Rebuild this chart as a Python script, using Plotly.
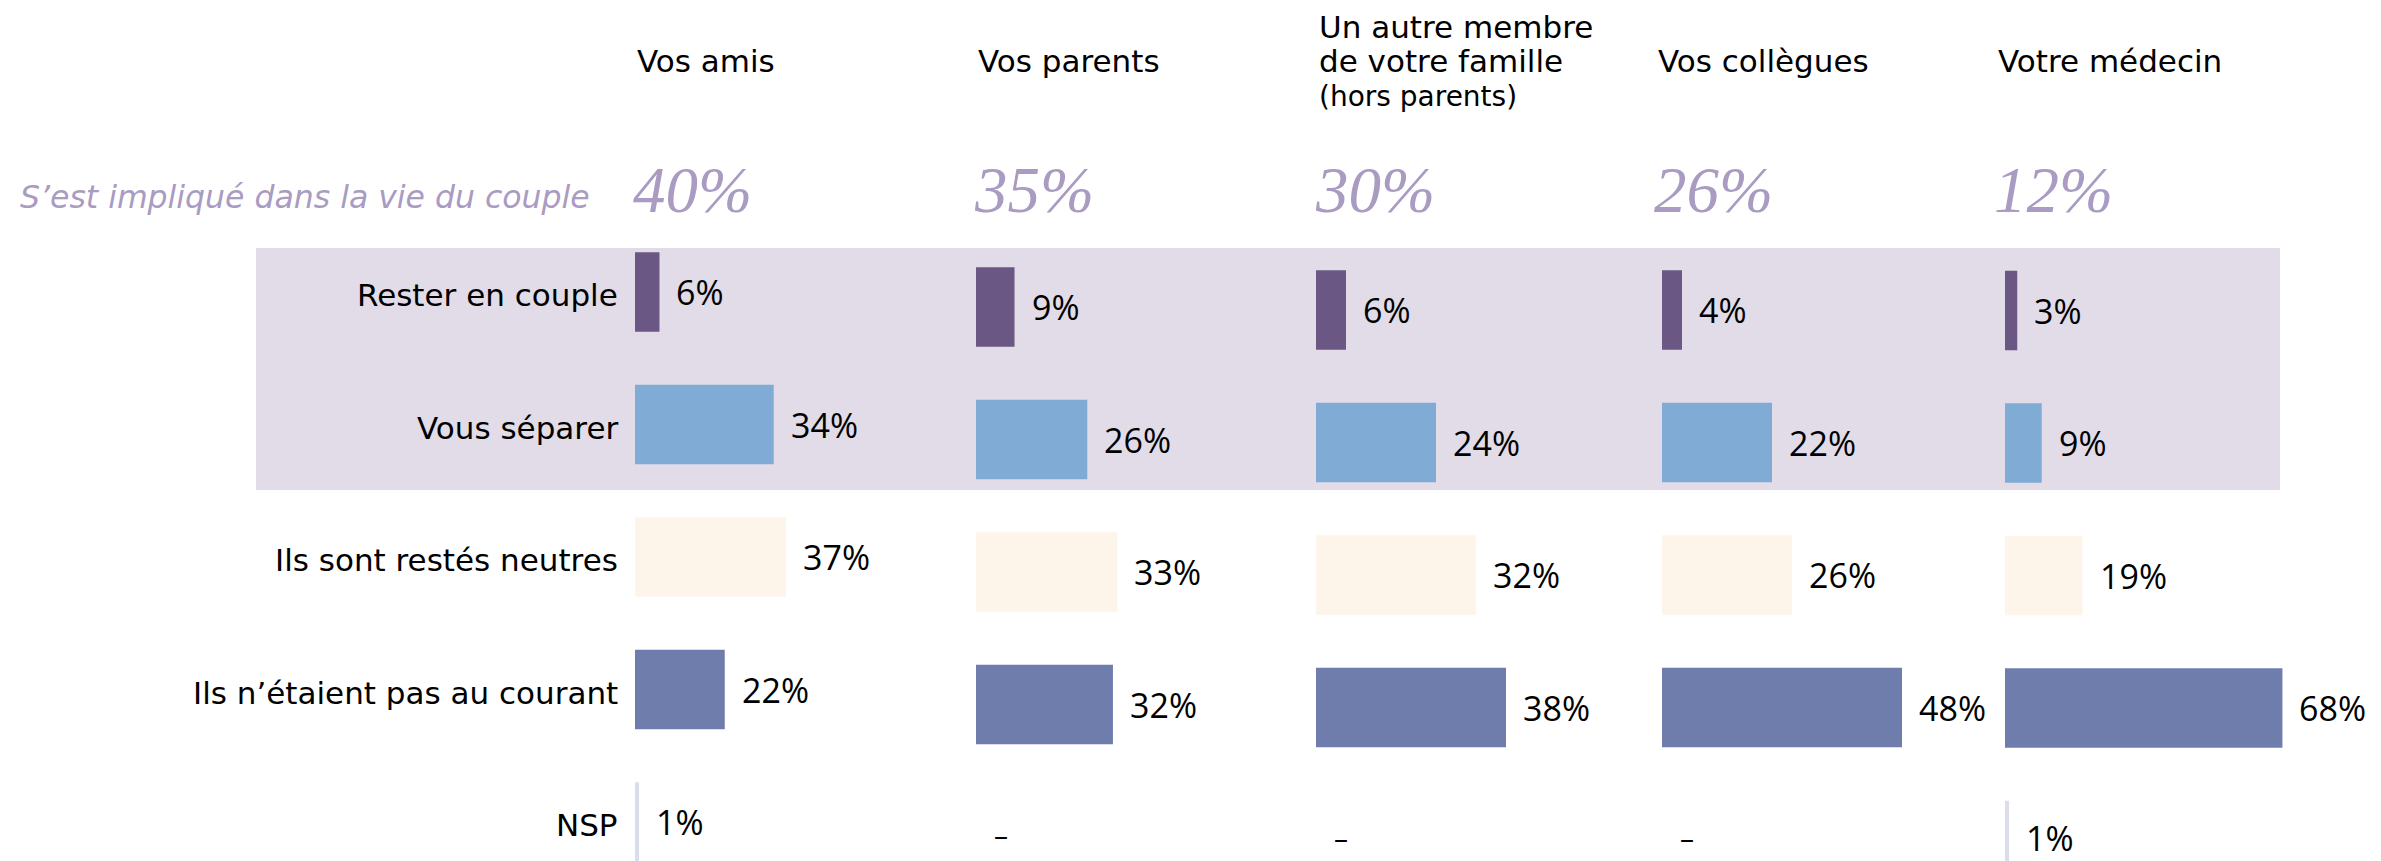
import plotly.graph_objects as go

W, H = 2381, 861

columns = ["Vos amis", "Vos parents", "Un autre membre de votre famille (hors parents)",
           "Vos collègues", "Votre médecin"]
header_lines = [["Vos amis"], ["Vos parents"], ["Un autre membre", "de votre famille", "(hors parents)"],
                ["Vos collègues"], ["Votre médecin"]]
implied = [40, 35, 30, 26, 12]
categories = ["Rester en couple", "Vous séparer", "Ils sont restés neutres",
              "Ils n’étaient pas au courant", "NSP"]
vals_amis = [6, 34, 37, 22, 1]
vals_parents = [9, 26, 33, 32, None]
vals_famille = [6, 24, 32, 38, None]
vals_collegues = [4, 22, 26, 48, None]
vals_medecin = [3, 9, 19, 68, 1]
series = [vals_amis, vals_parents, vals_famille, vals_collegues, vals_medecin]

cat_colors = ["#6A5783", "#80ABD5", "#FDF4EA", "#6F7DAD", "#DCDDEB"]
purple_txt = "#A99BC2"
band_color = "#E1DCE8"

FONT = "DejaVu Sans"
VFONT = "Open Sans"

# layout geometry (pixels)
col_left = [635, 976, 1316, 1662, 2005]
px_per_pct = [4.08, 4.28, 5.0, 5.0, 4.08]
first_row_center = [292, 307, 310, 310, 310.5]
row_step = 132.5
plot_top = 230
dom_w = 300
header_x = [635, 976, 1317, 1656, 1996]

fig = go.Figure()
layout = dict(
    width=W, height=H, margin=dict(l=0, r=0, t=0, b=0),
    paper_bgcolor="white", plot_bgcolor="rgba(0,0,0,0)",
    showlegend=False, bargap=0.4,
    font=dict(family=FONT, color="black"),
)
annotations = []
for k in range(5):
    ax = "" if k == 0 else str(k + 1)
    vals = series[k]
    fig.add_trace(go.Bar(
        x=vals, y=list(range(len(categories))), orientation="h",
        marker=dict(color=cat_colors, line=dict(width=0)),
        width=0.6, xaxis="x" + ax, yaxis="y" + ax, hoverinfo="skip",
    ))
    x0 = col_left[k] / W
    x1 = (col_left[k] + dom_w) / W
    layout["xaxis" + ax] = dict(domain=[x0, x1], range=[0, dom_w / px_per_pct[k]],
                                anchor="y" + ax, visible=False, fixedrange=True)
    top_val = -(first_row_center[k] - plot_top) / row_step
    bot_val = (H - first_row_center[k]) / row_step
    layout["yaxis" + ax] = dict(domain=[0, (H - plot_top) / H], range=[bot_val, top_val],
                                anchor="x" + ax, visible=False, fixedrange=True)
    for i, v in enumerate(vals):
        ys = 3 if (i == len(vals) - 1 and k > 0) else 0
        if v is not None:
            annotations.append(dict(
                x=v, y=i, xref="x" + ax, yref="y" + ax,
                text=f"{v}%", showarrow=False,
                xanchor="left", yanchor="middle", xshift=15, yshift=ys,
                font=dict(family=VFONT, size=34, color="black"),
            ))
        else:
            annotations.append(dict(
                x=0, y=i, xref="x" + ax, yref="y" + ax,
                text="–", showarrow=False,
                xanchor="left", yanchor="middle", xshift=16, yshift=3,
                font=dict(family=VFONT, size=28, color="black"),
            ))
    # headers
    lines = header_lines[k]
    if len(lines) == 1:
        annotations.append(dict(x=header_x[k] / W, y=1 - 61 / H, xref="paper", yref="paper",
                                text=lines[0], showarrow=False, xanchor="left", yanchor="middle",
                                font=dict(family=FONT, size=31, color="black")))
    else:
        ys_ = [27, 61, 97]
        sizes = [31, 31, 28]
        for ln, yy, sz in zip(lines, ys_, sizes):
            annotations.append(dict(x=header_x[k] / W, y=1 - yy / H, xref="paper", yref="paper",
                                    text=ln, showarrow=False, xanchor="left", yanchor="middle",
                                    font=dict(family=FONT, size=sz, color="black")))
    # implied %
    annotations.append(dict(x=(header_x[k] - 4) / W, y=1 - 190 / H, xref="paper", yref="paper",
                            text=f"<i>{implied[k]}%</i>", showarrow=False, xanchor="left",
                            yanchor="middle",
                            font=dict(family="Liberation Serif", size=65, color=purple_txt)))

# category labels (left of first column)
for i, c in enumerate(categories):
    annotations.append(dict(x=620 / W, y=i, xref="paper", yref="y", text=c, showarrow=False,
                            xanchor="right", yanchor="middle", yshift=-3,
                            font=dict(family=FONT, size=31, color="black")))

annotations.append(dict(x=592 / W, y=1 - 197 / H, xref="paper", yref="paper",
                        text="<i>S’est impliqué dans la vie du couple</i>", showarrow=False,
                        xanchor="right", yanchor="middle",
                        font=dict(family=FONT, size=31.5, color=purple_txt)))

layout["annotations"] = annotations
layout["shapes"] = [dict(type="rect", xref="paper", yref="paper",
                         x0=256 / W, x1=2280 / W, y0=1 - 490 / H, y1=1 - 248 / H,
                         fillcolor=band_color, line=dict(width=0), layer="below")]
fig.update_layout(**layout)

fig.write_html("out.html", include_plotlyjs=True, config={"displayModeBar": False},
               post_script="document.body.style.margin='0';document.body.style.overflow='hidden';")
